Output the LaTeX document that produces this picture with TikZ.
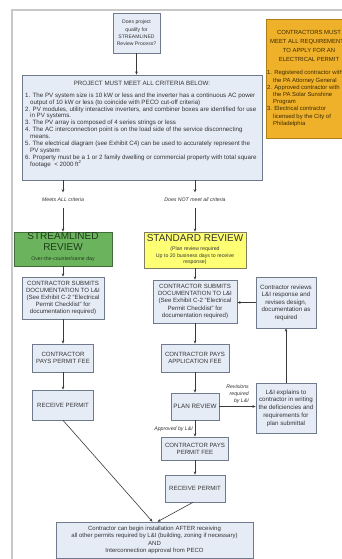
\documentclass[tikz,border=0pt]{standalone}
\usepackage{fontspec}
\setmainfont{Liberation Sans}
\usetikzlibrary{arrows.meta}
\definecolor{boxfill}{HTML}{E6ECF6}
\definecolor{boxdraw}{HTML}{6F7A8C}
\definecolor{framec}{HTML}{C8C8C8}
\definecolor{txt}{HTML}{333333}
\definecolor{grn}{HTML}{6CB35E}
\definecolor{grndraw}{HTML}{3F6E38}
\definecolor{grntxt}{HTML}{1E3C1A}
\definecolor{yel}{HTML}{FFFF73}
\definecolor{yeldraw}{HTML}{808060}
\definecolor{org}{HTML}{F0B12A}
\definecolor{orgdraw}{HTML}{B07E15}
\definecolor{orgtxt}{HTML}{3A2A00}
\definecolor{arrowc}{HTML}{3A3A3A}
\begin{document}
\begin{tikzpicture}[x=1pt,y=-1pt,
  box/.style={draw=boxdraw,fill=boxfill,line width=0.6pt,inner sep=0pt,align=center,text=txt,font=\fontsize{6.1}{7.2}\selectfont},
  arr/.style={draw=arrowc,line width=0.6pt,-{Stealth[length=3.2pt,width=2.6pt]}},
  lbl/.style={font=\itshape\fontsize{5.2}{7}\selectfont,text=txt,inner xsep=0pt,inner ysep=0pt,align=center},
  txtnode/.style={inner sep=0pt,text=txt,font=\fontsize{6.2}{6.9}\selectfont}]
\useasboundingbox (0,0) rectangle (342,559);
\clip (0,0) rectangle (342,559);
\fill[white] (0,0) rectangle (342,559);
\draw[framec,line width=1.6pt] (12,560) -- (12,10) -- (343,10);

% top question
\node[box,minimum width=47pt,minimum height=40pt,font=\fontsize{5.1}{7.4}\selectfont] (q) at (136.5,33) {Does project\\qualify for\\STREAMLINED\\Review Process?};

% criteria
\node[box,minimum width=240pt,minimum height=105pt] (crit) at (142,127.5) {};
\node[txtnode] (crith) at (142,83) {PROJECT MUST MEET ALL CRITERIA BELOW:};
\node[txtnode,anchor=north west,align=left] (critl) at (25,92.6) {1. The PV system size is 10 kW or less and the inverter has a continuous AC power\\
\hspace*{5pt}output of 10 kW or less (to coincide with PECO cut-off criteria)\\
2. PV modules, utility interactive inverters, and combiner boxes are identified for use\\
\hspace*{5pt}in PV systems.\\
3. The PV array is composed of 4 series strings or less\\
4. The AC interconnection point is on the load side of the service disconnecting\\
\hspace*{5pt}means.\\
5. The electrical diagram (see Exhibit C4) can be used to accurately represent the\\
\hspace*{5pt}PV system\\
6. Property must be a 1 or 2 family dwelling or commercial property with total square\\
\hspace*{5pt}footage\ \ < 2000 ft\textsuperscript{2}};

% orange requirements
\node[draw=orgdraw,fill=org,line width=0.6pt,minimum width=94pt,minimum height=119pt,inner sep=0pt] (req) at (313,78.5) {};
\node[inner sep=0pt,text=orgtxt,align=center,font=\fontsize{5.9}{9}\selectfont] (reqh) at (309,46) {CONTRACTORS MUST\\MEET ALL REQUIREMENTS\\TO APPLY FOR AN\\ELECTRICAL PERMIT};
\node[inner sep=0pt,text=orgtxt,align=left,anchor=north west,font=\fontsize{5.9}{7.2}\selectfont] (reql) at (267,70.5) {1. Registered contractor with\\
\hspace*{6pt}the PA Attorney General\\
2. Approved contractor with\\
\hspace*{6pt}the PA Solar Sunshine\\
\hspace*{6pt}Program\\
3. Electrical contractor\\
\hspace*{6pt}licensed by the City of\\
\hspace*{6pt}Philadelphia};

% branch labels
\node[lbl,inner ysep=5.5pt] (m1) at (63,200) {Meets ALL criteria};
\node[lbl,inner ysep=5.5pt] (m2) at (195,200) {Does NOT meet all criteria};

% streamlined
\node[draw=grndraw,fill=grn,line width=0.6pt,minimum width=98pt,minimum height=34pt,inner sep=0pt] (stream) at (63,249) {};
\node[inner sep=0pt,text=grntxt,align=center,font=\fontsize{10}{11}\selectfont] (streamt) at (63,241.5) {STREAMLINED\\REVIEW};
\node[inner sep=0pt,text=grntxt,font=\fontsize{5.2}{6}\selectfont] (streams) at (63,259.5) {Over-the-counter/same day};
% standard
\node[draw=yeldraw,fill=yel,line width=0.6pt,minimum width=102pt,minimum height=36pt,inner sep=0pt] (std) at (195,250) {};
\node[inner sep=0pt,text=txt,font=\fontsize{10}{11}\selectfont] (stdt) at (195,238) {STANDARD REVIEW};
\node[inner sep=0pt,text=txt,align=center,font=\fontsize{5.2}{6.6}\selectfont] (stds) at (195,256) {(Plan review required\\Up to 20 business days to receive\\response)};

% left column
\node[box,minimum width=82pt,minimum height=42pt] (ls) at (63,298) {CONTRACTOR SUBMITS\\DOCUMENTATION TO L\&I\\(See Exhibit C-2 ``Electrical\\Permit Checklist'' for\\documentation required)};
\node[box,minimum width=61pt,minimum height=28pt] (lp) at (63,358) {CONTRACTOR\\PAYS PERMIT FEE};
\node[box,minimum width=61pt,minimum height=30pt] (lr) at (63,405) {RECEIVE PERMIT};

% right column
\node[box,minimum width=84pt,minimum height=43pt] (rs) at (195,301.5) {CONTRACTOR SUBMITS\\DOCUMENTATION TO L\&I\\(See Exhibit C-2 ``Electrical\\Permit Checklist'' for\\documentation required)};
\node[box,minimum width=60pt,minimum height=51pt,font=\fontsize{6.2}{7.5}\selectfont] (rev) at (286,302.5) {Contractor reviews\\L\&I response and\\revises design,\\documentation as\\required};
\node[box,minimum width=68pt,minimum height=28pt] (af) at (195,358) {CONTRACTOR PAYS\\APPLICATION FEE};
\node[box,minimum width=48pt,minimum height=27pt,font=\fontsize{6.3}{7.2}\selectfont] (pr) at (195,406.5) {PLAN REVIEW};
\node[box,minimum width=60pt,minimum height=50pt,font=\fontsize{6.2}{7.7}\selectfont] (ex) at (286,408) {L\&I explains to\\contractor in writing\\the deficiencies and\\requirements for\\plan submittal};
\node[box,minimum width=67pt,minimum height=23pt] (rp) at (195,448.5) {CONTRACTOR PAYS\\PERMIT FEE};
\node[box,minimum width=60pt,minimum height=27pt] (rr) at (195,488.5) {RECEIVE PERMIT};

% final
\node[box,minimum width=197pt,minimum height=36pt,font=\fontsize{6.0}{7.5}\selectfont] (fin) at (154.5,540) {Contractor can begin installation AFTER receiving\\all other permits required by L\&I (building, zoning if necessary)\\AND\\Interconnection approval from PECO};

% edge labels
\node[lbl,anchor=south east,align=right] (revl) at (249,404) {Revisions\\required\\by L\&I};
\node[lbl,anchor=east] (appl) at (193,429) {Approved by L\&I};

% connectors
\draw[arr] (q.south) -- (q.south |- crit.north);
\draw[arr] (crit.south -| m1) -- (m1.north);
\draw[arr] (m1.south) -- (stream.north);
\draw[arr] (crit.south -| m2) -- (m2.north);
\draw[arr] (m2.south) -- (std.north);
\draw[arr] (stream.south) -- (ls.north);
\draw[arr] (ls.south) -- (lp.north);
\draw[arr] (lp.south) -- (lr.north);
\draw[arr] (lr.south) -- ([xshift=-2pt]fin.north);
\draw[arr] (std.south) -- (rs.north);
\draw[arr] (rs.south) -- (af.north);
\draw[arr] (af.south) -- (pr.north);
\draw[arr] (pr.south) -- (rp.north);
\draw[arr] (rp.south) -- (rr.north);
\draw[arr] ([xshift=-2pt]rr.south) -- ([xshift=3pt]fin.north);
\draw[arr] (pr.east) -- (pr.east -| ex.west);
\draw[arr] (ex.north) -- (rev.south);
\draw[arr] (rev.west) -- (rev.west -| rs.east);
\end{tikzpicture}
\end{document}
